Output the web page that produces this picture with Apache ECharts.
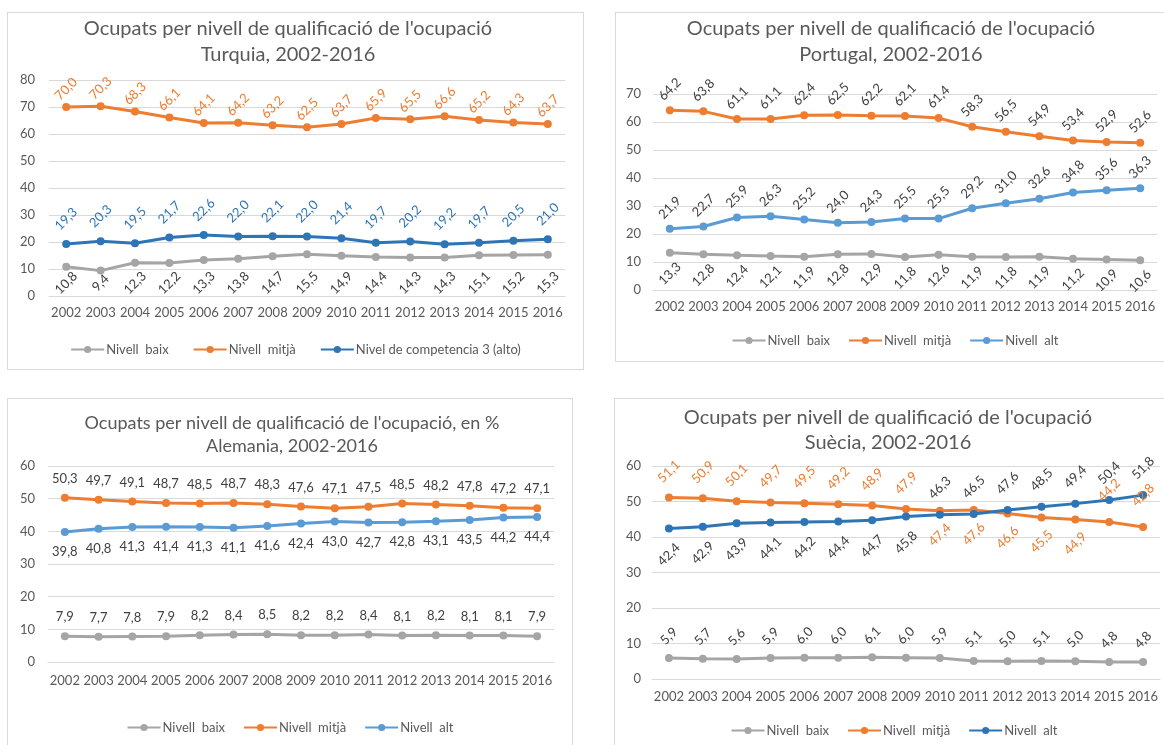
<!DOCTYPE html>
<html>
<head>
<meta charset="utf-8">
<script src="https://cdn.jsdelivr.net/npm/echarts@6/dist/echarts.min.js"></script>
<style>
  html, body { margin: 0; padding: 0; background: #fff; width: 1164px; height: 745px; overflow: hidden; }
  .panel { position: absolute; border: 1px solid #D9D9D9; box-sizing: border-box; background: #fff; }
</style>
</head>
<body>
<div id="p1" class="panel" style="left:7px;top:12px;width:577px;height:358px;"></div>
<div id="p2" class="panel" style="left:615px;top:12px;width:560px;height:350px;"></div>
<div id="p3" class="panel" style="left:7px;top:398px;width:566px;height:360px;"></div>
<div id="p4" class="panel" style="left:614px;top:398px;width:560px;height:360px;"></div>
<script>
// ---------- DATA ----------
const years = ['2002','2003','2004','2005','2006','2007','2008','2009','2010','2011','2012','2013','2014','2015','2016'];

const turTitle = ["Ocupats per nivell de qualificació de l'ocupació", "Turquia, 2002-2016"];
const turNames = ['Nivell  baix', 'Nivell  mitjà', 'Nivel de competencia 3 (alto)'];
const turBaix  = [10.8, 9.4, 12.3, 12.2, 13.3, 13.8, 14.7, 15.5, 14.9, 14.4, 14.3, 14.3, 15.1, 15.2, 15.3];
const turMitja = [70.0, 70.3, 68.3, 66.1, 64.1, 64.2, 63.2, 62.5, 63.7, 65.9, 65.5, 66.6, 65.2, 64.3, 63.7];
const turAlt   = [19.3, 20.3, 19.5, 21.7, 22.6, 22.0, 22.1, 22.0, 21.4, 19.7, 20.2, 19.2, 19.7, 20.5, 21.0];

const porTitle = ["Ocupats per nivell de qualificació de l'ocupació", "Portugal, 2002-2016"];
const porNames = ['Nivell  baix', 'Nivell  mitjà', 'Nivell  alt'];
const porBaix  = [13.3, 12.8, 12.4, 12.1, 11.9, 12.8, 12.9, 11.8, 12.6, 11.9, 11.8, 11.9, 11.2, 10.9, 10.6];
const porMitja = [64.2, 63.8, 61.1, 61.1, 62.4, 62.5, 62.2, 62.1, 61.4, 58.3, 56.5, 54.9, 53.4, 52.9, 52.6];
const porAlt   = [21.9, 22.7, 25.9, 26.3, 25.2, 24.0, 24.3, 25.5, 25.5, 29.2, 31.0, 32.6, 34.8, 35.6, 36.3];

const aleTitle = ["Ocupats per nivell de qualificació de l'ocupació, en %", "Alemania, 2002-2016"];
const aleNames = ['Nivell  baix', 'Nivell  mitjà', 'Nivell  alt'];
const aleBaix  = [7.9, 7.7, 7.8, 7.9, 8.2, 8.4, 8.5, 8.2, 8.2, 8.4, 8.1, 8.2, 8.1, 8.1, 7.9];
const aleMitja = [50.3, 49.7, 49.1, 48.7, 48.5, 48.7, 48.3, 47.6, 47.1, 47.5, 48.5, 48.2, 47.8, 47.2, 47.1];
const aleAlt   = [39.8, 40.8, 41.3, 41.4, 41.3, 41.1, 41.6, 42.4, 43.0, 42.7, 42.8, 43.1, 43.5, 44.2, 44.4];

const sueTitle = ["Ocupats per nivell de qualificació de l'ocupació", "Suècia, 2002-2016"];
const sueNames = ['Nivell  baix', 'Nivell  mitjà', 'Nivell  alt'];
const sueBaix  = [5.9, 5.7, 5.6, 5.9, 6.0, 6.0, 6.1, 6.0, 5.9, 5.1, 5.0, 5.1, 5.0, 4.8, 4.8];
const sueMitja = [51.1, 50.9, 50.1, 49.7, 49.5, 49.2, 48.9, 47.9, 47.4, 47.6, 46.6, 45.5, 44.9, 44.2, 42.8];
const sueAlt   = [42.4, 42.9, 43.9, 44.1, 44.2, 44.4, 44.7, 45.8, 46.3, 46.5, 47.6, 48.5, 49.4, 50.4, 51.8];

// ---------- STYLE ----------
const FONT = 'Lato';
const TXT = '#595959';
const DARK = '#404040';
const GRAY = '#A5A5A5', ORANGE = '#ED7D31', BLUE_D = '#2E75B6', BLUE_L = '#5B9BD5';
const fmtNum = v => v.toFixed(1).replace('.', ',');

function lineSeries(name, values, color) {
  return {
    type: 'line', name: name, data: values,
    symbol: 'circle', symbolSize: 8,
    lineStyle: { width: 3, color: color },
    itemStyle: { color: color },
    label: { show: false },
    z: 3
  };
}

// Data labels placed through the axes (api.coord); lbl: { dy, rotate, color, fixedBottom }
function labelSeries(id, values, lbl) {
  return {
    type: 'custom', name: 'lbl-' + id, silent: true, z: 5,
    data: values.map((v, i) => [i, v]),
    renderItem: function (params, api) {
      const i = api.value(0), v = api.value(1);
      const pt = api.coord([i, v]);
      let y;
      if (lbl.fixedBottom != null) {
        y = api.coord([i, 0])[1] - lbl.fixedBottom;
      } else {
        const dy = typeof lbl.dy === 'function' ? lbl.dy(i) : lbl.dy;
        y = pt[1] + dy;
      }
      return {
        type: 'text', x: pt[0], y: y,
        rotation: (lbl.rotate || 0) * Math.PI / 180,
        style: {
          text: fmtNum(v), font: '13px ' + FONT, fill: lbl.color || DARK,
          align: 'center', verticalAlign: 'middle'
        }
      };
    }
  };
}

function makeChart(id, cfg) {
  const chart = echarts.init(document.getElementById(id), null, { renderer: 'canvas' });
  chart.setOption({
    animation: false,
    textStyle: { fontFamily: FONT },
    graphic: [
      { type: 'text', x: cfg.titleX, y: cfg.titleY[0], style: { text: cfg.title[0], font: cfg.titleSize + 'px ' + FONT, fill: TXT, textAlign: 'center', textVerticalAlign: 'middle' } },
      { type: 'text', x: cfg.titleX, y: cfg.titleY[1], style: { text: cfg.title[1], font: cfg.titleSize + 'px ' + FONT, fill: TXT, textAlign: 'center', textVerticalAlign: 'middle' } }
    ],
    legend: {
      top: cfg.legendTop, left: 'center', padding: 0, itemGap: cfg.legendGap,
      itemWidth: 33, itemHeight: 9,
      textStyle: { fontFamily: FONT, fontSize: 13, color: TXT, padding: [0, 0, 0, -3] },
      data: cfg.names
    },
    grid: cfg.grid,
    xAxis: {
      type: 'category', data: years, boundaryGap: true,
      axisLine: { show: true, lineStyle: { color: '#D9D9D9', width: 1 } },
      axisTick: { show: false },
      axisLabel: { fontFamily: FONT, fontSize: 13, color: TXT, margin: cfg.xMargin, interval: 0 }
    },
    yAxis: {
      type: 'value', min: 0, max: cfg.yMax, interval: 10,
      axisLine: { show: false }, axisTick: { show: false },
      splitLine: { lineStyle: { color: '#D9D9D9', width: 1 } },
      axisLabel: { fontFamily: FONT, fontSize: 13, color: TXT, margin: cfg.yMargin }
    },
    series: cfg.series
  });
}

// Turquia
makeChart('p1', {
  title: turTitle, titleX: 280, titleY: [16, 42], titleSize: 20,
  names: turNames, legendTop: 330, legendGap: 24, yMax: 80, xMargin: 10, yMargin: 14,
  grid: { left: 41, right: 18, top: 67, bottom: 73 },
  series: [
    lineSeries(turNames[0], turBaix, GRAY),
    lineSeries(turNames[1], turMitja, ORANGE),
    lineSeries(turNames[2], turAlt, BLUE_D),
    labelSeries('tb', turBaix, { fixedBottom: 13, rotate: 45 }),
    labelSeries('tm', turMitja, { dy: -18, rotate: 45, color: ORANGE }),
    labelSeries('ta', turAlt, { dy: -25, rotate: 45, color: BLUE_D })
  ]
});

// Portugal
makeChart('p2', {
  title: porTitle, titleX: 275, titleY: [16, 42], titleSize: 20,
  names: porNames, legendTop: 321, legendGap: 18, yMax: 70, xMargin: 10, yMargin: 12,
  grid: { left: 37, right: 17, top: 81, bottom: 71 },
  series: [
    lineSeries(porNames[0], porBaix, GRAY),
    lineSeries(porNames[1], porMitja, ORANGE),
    lineSeries(porNames[2], porAlt, BLUE_L),
    labelSeries('pb', porBaix, { dy: 21, rotate: 45 }),
    labelSeries('pm', porMitja, { dy: -21, rotate: 45 }),
    labelSeries('pa', porAlt, { dy: -21, rotate: 45 })
  ]
});

// Alemania
makeChart('p3', {
  title: aleTitle, titleX: 284, titleY: [24, 47], titleSize: 18,
  names: aleNames, legendTop: 322, legendGap: 18, yMax: 60, xMargin: 12, yMargin: 13,
  grid: { left: 40, right: 18, top: 67, bottom: 95 },
  series: [
    lineSeries(aleNames[0], aleBaix, GRAY),
    lineSeries(aleNames[1], aleMitja, ORANGE),
    lineSeries(aleNames[2], aleAlt, BLUE_L),
    labelSeries('ab', aleBaix, { dy: -19 }),
    labelSeries('am', aleMitja, { dy: -19 }),
    labelSeries('aa', aleAlt, { dy: 20 })
  ]
});

// Suècia
const sueMitjaDy = i => (i <= 7 ? -26 : (i <= 12 ? 24 : -32));
const sueAltDy   = i => (i <= 7 ? 26 : -27);
makeChart('p4', {
  title: sueTitle, titleX: 273, titleY: [19, 44], titleSize: 20,
  names: sueNames, legendTop: 325, legendGap: 18, yMax: 60, xMargin: 11, yMargin: 11,
  grid: { left: 37, right: 13, top: 67, bottom: 78 },
  series: [
    lineSeries(sueNames[0], sueBaix, GRAY),
    lineSeries(sueNames[1], sueMitja, ORANGE),
    lineSeries(sueNames[2], sueAlt, BLUE_D),
    labelSeries('sb', sueBaix, { dy: -22, rotate: 45 }),
    labelSeries('sm', sueMitja, { dy: sueMitjaDy, rotate: 45, color: ORANGE }),
    labelSeries('sa', sueAlt, { dy: sueAltDy, rotate: 45 })
  ]
});
</script>
</body>
</html>
